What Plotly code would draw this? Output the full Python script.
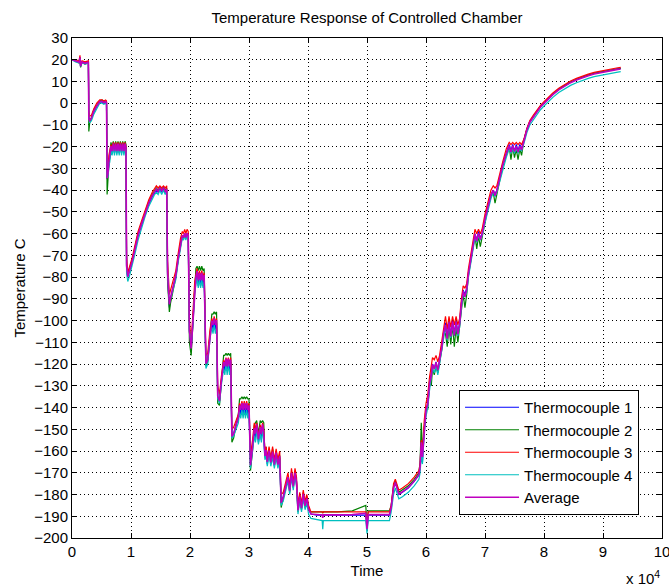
import plotly.graph_objects as go

# Time in seconds, one line per segment of the run
time_s = [
    0, 600, 1200, 1350, 1450, 1700, 2200, 2700, 2780,
    2850, 3000, 3300, 3700, 4200, 4700, 5100, 5400, 5700, 5850,
    5950, 6100, 6250, 6400, 6600, 6800, 7000, 7200, 7400, 7600, 7800, 8000, 8200, 8400, 8600, 8800, 9000, 9150,
    9250, 9450, 9700, 10200, 10700, 11200, 11800, 12400, 13000, 13600, 14000, 14300, 14600, 14900, 15200, 15500, 15800, 16050,
    16200, 16500, 16700, 16900, 17200, 17600, 18000, 18400, 18700, 18900, 19100, 19300, 19500, 19700,
    19900, 20200, 20500, 20800, 21000, 21200, 21400, 21600, 21800, 22000, 22200, 22400,
    22700, 23000, 23400, 23700, 23900, 24100, 24300, 24500,
    24700, 25000, 25300, 25700, 25900, 26100, 26300, 26500, 26700, 26900,
    27100, 27400, 27800, 28200, 28400, 28600, 28800, 29000, 29200, 29400, 29600, 29800, 30000,
    30250, 30600, 30900, 31100, 31300, 31600, 31900, 32100, 32300, 32500,
    32700, 32900, 33100, 33400, 33700, 34000, 34300, 34600, 34900, 35200,
    35450, 35800, 36200, 36600, 36900, 37200, 37500, 37800, 38050,
    38300, 38600, 38900, 39200, 39500, 39800, 40100, 40500,
    41500, 42400, 42500, 42600, 45000, 47500, 49800, 50000, 50200, 52000, 53000, 53800,
    54100, 54500, 54800, 55100, 55400, 56000, 57000, 58000, 58800,
    59000, 59200, 59400, 59700, 60000, 60300, 60600, 60900, 61100, 61400, 61700, 62000,
    62300, 62700, 63000, 63300, 63600, 63900, 64200, 64500, 64800, 65100, 65400, 65700,
    66000, 66300, 66600, 66900, 67200, 67600, 68000, 68300, 68600, 68900, 69200, 69500,
    70000, 70500, 71000, 71400, 71700, 72000, 72500, 73000, 73600, 74100, 74400, 74700, 75000, 75300, 75600, 75900, 76200,
    76600, 77100, 77600, 78200, 78800, 79400, 80000, 80600, 81500, 82500, 83500, 84500, 85500, 86500, 87500, 88500, 89500, 90500, 91500, 92500, 93000,
]

thermocouple_1 = [
    20, 19.5, 19, 21, 17, 19, 18.5, 19, 19,
    -6, -8, -7, -4, -1.5, 0.5, 0.5, 0, 0.5, 0,
    -35, -32, -27, -24, -20, -23, -19, -23, -19, -23, -19, -23, -19, -23, -19, -23, -19, -21,
    -76, -80, -78, -73, -67, -61, -56, -51, -46.5, -43, -41, -40, -41, -39, -41, -39, -41, -40,
    -80, -94, -90, -87, -84, -79, -71, -64, -61, -62, -60, -62, -60, -61,
    -105, -113, -100, -85, -82, -78, -84, -79, -84, -79, -84, -80,
    -120, -118, -106, -101, -104, -100, -104, -101,
    -135, -137, -128, -120, -123, -118, -123, -118, -123, -119,
    -153, -152, -148, -145, -140, -143, -139, -143, -139, -143, -139, -143, -140,
    -167, -158, -150, -155, -148, -156, -150, -155, -148, -154,
    -162, -160, -166, -160, -166, -161, -167, -161, -167, -163,
    -184, -181, -176, -172, -178, -170, -176, -170, -174,
    -187, -180, -186, -179, -185, -181, -186, -189,
    -189.5, -189.5, -190, -189.5, -189.5, -189.5, -189.5, -196, -189.5, -189.5, -189.5, -189.5,
    -186, -177, -174, -177, -180, -179, -177, -174, -171,
    -168, -160, -165, -150, -142, -138, -130, -125, -120, -122, -119, -123,
    -118, -112, -106, -101, -108, -100, -107, -100, -106, -100, -106, -101,
    -92, -86, -88, -85, -78, -71, -65, -60, -63, -59, -62, -60,
    -53, -47, -42, -40, -42, -40, -34, -28, -23, -19, -22, -19, -22, -19, -22, -19, -21,
    -17, -12, -8.5, -6, -3.5, -1.5, 0.2, 2, 4.2, 6.4, 8.2, 9.7, 10.9, 12, 12.9, 13.7, 14.3, 14.8, 15.3, 15.8, 16,
]

thermocouple_2 = [
    20, 19.5, 18.5, 21, 16.5, 19, 18, 18.5, 18.5,
    -13, -9, -6.5, -3, -1, 1, 1.5, 0.5, 1, 0.5,
    -42, -34, -28, -25, -18, -20, -17.5, -20, -17.5, -20, -17.5, -20, -17.5, -20, -17.5, -20, -17.5, -19,
    -74, -79, -77, -72, -66, -60, -55, -50, -45.5, -42, -40, -39, -40, -38.5, -40, -38.5, -40, -39,
    -82, -96, -92, -89, -86, -80, -72, -65, -61, -62, -60, -62, -60, -61,
    -110, -116, -101, -82, -76, -75, -77, -75, -77, -75, -77, -76,
    -121, -119, -107, -97, -97, -96, -97, -96,
    -138, -139, -129, -116, -116, -115, -116, -115, -116, -115,
    -156, -154, -148, -143, -136, -136, -135, -136, -135, -136, -135, -136, -136,
    -169, -160, -148, -147, -146, -152, -146, -147, -146, -147,
    -163, -158, -164, -159, -165, -159, -166, -160, -166, -162,
    -186, -182, -177, -172, -179, -170, -177, -170, -175,
    -188, -182, -187, -180, -186, -182, -187, -188,
    -188, -188, -188.5, -188, -188, -187.5, -185, -196, -187.5, -187.5, -187.5, -187.5,
    -185, -176, -174, -176, -179, -178, -176, -173, -170,
    -165, -147, -160, -148, -140, -141, -128, -130, -122, -125, -121, -124,
    -120, -113, -105, -106, -112, -103, -111, -102, -112, -103, -110, -103,
    -94, -88, -94, -88, -79, -72, -66, -61, -67, -61, -66, -62,
    -54, -48, -43, -41, -46, -42, -35, -29, -24, -20, -26, -20, -25, -21, -26, -21, -24,
    -17, -12, -8.5, -6, -3.5, -1.5, 0.2, 2, 4.2, 6.4, 8.2, 9.7, 10.9, 12, 12.9, 13.7, 14.3, 14.8, 15.3, 15.8, 16,
]

thermocouple_3 = [
    20, 20, 19.5, 22, 17.5, 19.5, 19, 19.5, 19.5,
    -3, -6, -5.5, -2.5, 0, 1.5, 1.5, 1, 1.5, 1,
    -28, -29, -24, -22, -19, -21, -18, -21, -18, -21, -18, -21, -18, -21, -18, -21, -18, -20,
    -70, -78, -76, -71, -65, -59, -54, -49, -44.5, -41, -39, -38, -39, -38, -39, -38, -39, -38,
    -72, -88, -86, -84, -81, -77, -69, -62, -59, -60, -58, -60, -58, -59,
    -100, -110, -96, -82, -79, -76, -80, -77, -80, -77, -80, -78,
    -116, -115, -104, -99, -101, -98, -101, -99,
    -130, -134, -126, -118, -120, -117, -120, -117, -120, -117,
    -150, -149, -146, -143, -138, -140, -137, -140, -137, -140, -137, -140, -138,
    -162, -155, -147, -150, -147, -153, -148, -151, -147, -150,
    -160, -158, -163, -158, -163, -158, -164, -159, -164, -160,
    -180, -179, -174, -170, -176, -168, -174, -168, -172,
    -185, -179, -184, -178, -183, -180, -185, -188,
    -188, -188, -188.5, -188, -188, -188, -188, -194, -188, -188, -188, -188,
    -185, -175, -173, -176, -178, -177, -175, -172, -169,
    -166, -155, -160, -146, -138, -134, -126, -120, -117, -118, -116, -119,
    -116, -109, -103, -98, -104, -98, -103, -98, -102, -98, -102, -99,
    -90, -84, -85, -83, -76, -69, -63, -58, -60, -58, -60, -58,
    -51, -45, -40, -38, -39, -38, -32, -27, -21, -18, -19, -18, -19, -18, -19, -18, -19,
    -16.5, -11.5, -8, -5.5, -3, -1, 0.7, 2.5, 4.7, 6.9, 8.7, 10.2, 11.4, 12.5, 13.4, 14.2, 14.8, 15.3, 15.8, 16.3, 16.5,
]

thermocouple_4 = [
    20, 19, 18.5, 20.5, 17, 18.5, 18, 18.5, 18.5,
    -7, -9, -8, -5, -2.5, 0, 0, -0.5, 0, -0.5,
    -33, -34, -29, -27, -22, -24, -20, -24, -20, -24, -20, -24, -20, -24, -20, -24, -20, -22,
    -78, -82, -80, -75, -69, -63, -57, -52, -47.5, -44, -42, -41, -42, -40, -42, -40, -42, -41,
    -78, -92, -90, -88, -85, -81, -73, -66, -62, -63, -61, -63, -61, -62,
    -104, -112, -102, -87, -84, -80, -85, -81, -85, -81, -85, -82,
    -122, -120, -108, -103, -106, -102, -106, -103,
    -136, -138, -130, -122, -125, -120, -125, -120, -125, -121,
    -154, -153, -150, -147, -142, -145, -141, -145, -141, -145, -141, -145, -142,
    -168, -160, -153, -156, -150, -157, -152, -156, -150, -155,
    -164, -162, -167, -162, -167, -163, -168, -163, -168, -164,
    -185, -183, -178, -174, -180, -172, -178, -172, -176,
    -189, -183, -188, -182, -187, -184, -189, -191,
    -191.5, -192, -196, -192, -192, -192, -192, -198, -192, -192, -192, -192,
    -188, -180, -177, -180, -182, -181, -179, -176, -173,
    -170, -162, -166, -152, -144, -140, -132, -126, -122, -124, -121, -125,
    -120, -114, -108, -103, -109, -102, -108, -102, -107, -102, -107, -103,
    -94, -88, -89, -87, -80, -73, -67, -62, -64, -61, -63, -61,
    -55, -49, -44, -41, -43, -41, -36, -30, -25, -21, -23, -21, -23, -21, -23, -21, -22,
    -18.5, -13.5, -10, -7.5, -5, -3, -1.3, 0.5, 2.7, 4.9, 6.7, 8.2, 9.4, 10.5, 11.4, 12.2, 12.8, 13.3, 13.8, 14.3, 14.5,
]

series_names = ["Thermocouple 1", "Thermocouple 2", "Thermocouple 3", "Thermocouple 4", "Average"]
series_colors = ["rgb(0,0,255)", "rgb(0,128,0)", "rgb(255,0,0)", "rgb(0,191,191)", "rgb(191,0,191)"]
series_widths = [1.2, 1.2, 1.2, 1.2, 1.6]
x_tick_values = [0, 10000, 20000, 30000, 40000, 50000, 60000, 70000, 80000, 90000, 100000]
x_tick_labels = ["0", "1", "2", "3", "4", "5", "6", "7", "8", "9", "10"]

tcs = [thermocouple_1, thermocouple_2, thermocouple_3, thermocouple_4]
for s in tcs:
    assert len(s) == len(time_s), (len(s), len(time_s))
average = [sum(v) / 4.0 for v in zip(*tcs)]

fig = go.Figure()
for name, color, width, ys in zip(series_names, series_colors, series_widths, tcs + [average]):
    fig.add_trace(go.Scatter(x=time_s, y=ys, mode="lines", name=name,
                             line=dict(color=color, width=width), legendgroup=name))

FONT = "Liberation Sans, Arial, Helvetica, sans-serif"
axis_common = dict(
    showline=True, linecolor="black", linewidth=1, mirror="ticks",
    ticks="inside", ticklen=5, tickcolor="black", tickwidth=1,
    showgrid=True, gridcolor="black", gridwidth=1, griddash="1px,3px",
    zeroline=False, automargin=False,
    tickfont=dict(family=FONT, size=15, color="black"),
)
fig.update_xaxes(range=[0, 100000], tickvals=x_tick_values, ticktext=x_tick_labels,
                 ticklabeloverflow="allow",
                 title=dict(text="Time", standoff=6, font=dict(family=FONT, size=15)),
                 **axis_common)
fig.update_yaxes(range=[-200, 30], tick0=0, dtick=10,
                 title=dict(text="Temperature C", standoff=4, font=dict(family=FONT, size=15)),
                 **axis_common)

fig.update_layout(
    width=669, height=586,
    margin=dict(l=72, r=7, t=38, b=48, autoexpand=False),
    plot_bgcolor="white", paper_bgcolor="white",
    font=dict(family=FONT, size=15, color="black"),
    title=dict(text="Temperature Response of Controlled Chamber", x=0.5, xref="paper",
               xanchor="center", y=1 - 18 / 586, yref="container", yanchor="middle",
               font=dict(family=FONT, size=15, color="black")),
    showlegend=True,
    legend=dict(x=0.656, y=0.296, xanchor="left", yanchor="top",
                bgcolor="white", bordercolor="black", borderwidth=1,
                font=dict(family=FONT, size=15, color="black"),
                tracegroupgap=1, traceorder="normal", itemwidth=54),
    annotations=[dict(text="x 10<sup>4</sup>", xref="paper", yref="paper",
                      x=1.0, y=-0.078, xanchor="right", yanchor="middle",
                      showarrow=False, font=dict(family=FONT, size=15, color="black"))],
)

fig.write_html("out.html")
